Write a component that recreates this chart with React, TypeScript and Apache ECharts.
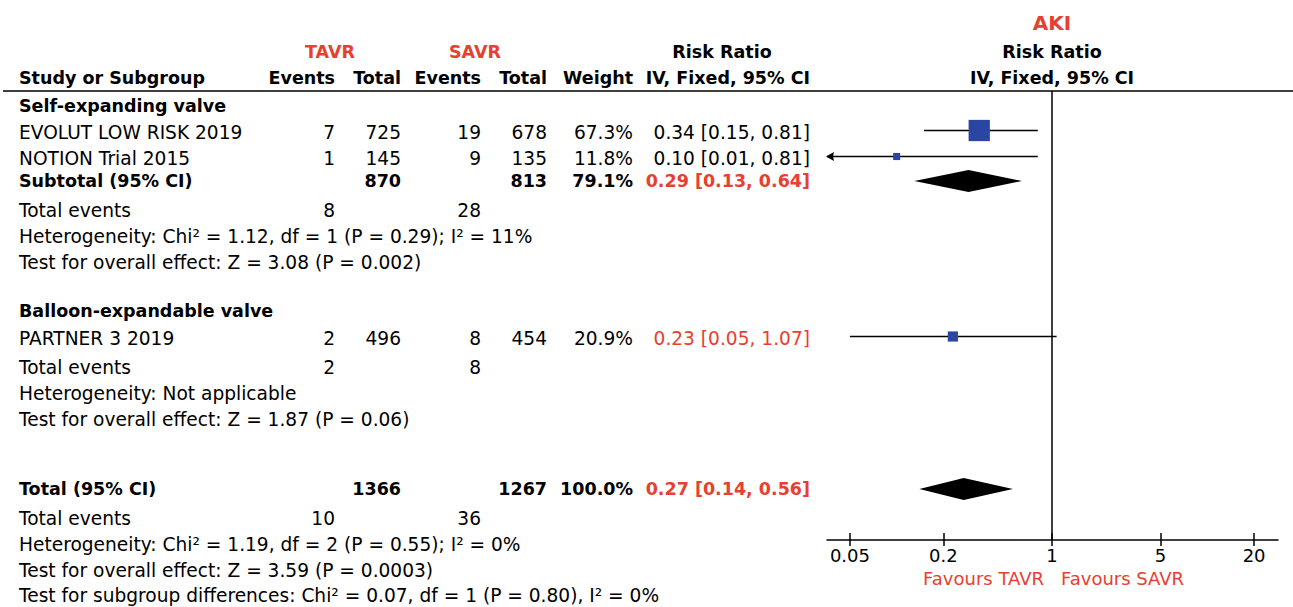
import React, { useEffect, useRef } from "react";
import * as echarts from "echarts";

// ---------- data ----------
const SUBGROUPS = ["Self-expanding valve", "Balloon-expandable valve"];
const STUDIES = ["EVOLUT LOW RISK 2019", "NOTION Trial 2015", "PARTNER 3 2019"];
const TAVR_EVENTS = [7, 1, 2];
const TAVR_TOTAL = [725, 145, 496];
const SAVR_EVENTS = [19, 9, 8];
const SAVR_TOTAL = [678, 135, 454];
const WEIGHT = [67.3, 11.8, 20.9];
const RR = [0.34, 0.1, 0.23];
const RR_LOW = [0.15, 0.01, 0.05];
const RR_HIGH = [0.81, 0.81, 1.07];

const POOLED_LABELS = ["Subtotal (95% CI)", "Total (95% CI)"];
const POOLED_TAVR_TOTAL = [870, 1366];
const POOLED_SAVR_TOTAL = [813, 1267];
const POOLED_WEIGHT = [79.1, 100.0];
const POOLED_RR = [0.29, 0.27];
const POOLED_LOW = [0.13, 0.14];
const POOLED_HIGH = [0.64, 0.56];

const EVENTS_TAVR = [8, 2, 10];
const EVENTS_SAVR = [28, 8, 36];
const HETEROGENEITY = [
  "Heterogeneity: Chi² = 1.12, df = 1 (P = 0.29); I² = 11%",
  "Heterogeneity: Not applicable",
  "Heterogeneity: Chi² = 1.19, df = 2 (P = 0.55); I² = 0%",
];
const OVERALL_EFFECT = [
  "Test for overall effect: Z = 3.08 (P = 0.002)",
  "Test for overall effect: Z = 1.87 (P = 0.06)",
  "Test for overall effect: Z = 3.59 (P = 0.0003)",
];
const SUBGROUP_TEST = "Test for subgroup differences: Chi² = 0.07, df = 1 (P = 0.80), I² = 0%";
const AXIS_TICKS = [0.05, 0.2, 1, 5, 20];
const OUTCOME = "AKI";

// ---------- layout ----------
const W = 1293;
const H = 607;
const X_MIN = 0.0356;
const X_MAX = 28.5;
const GRID = { left: 827, right: 15, top: 91, bottom: 67 };
const COL = { left: 19, tavrE: 335, tavrT: 401, savrE: 481, savrT: 547, weight: 633, ci: 810, tavrC: 330, savrC: 475, rrC: 722, plotC: 1052 };
const Y = {
  aki: 23, group: 52, head: 78, rule: 91,
  self: 106, study: [132, 158, 338], sub: 181,
  events: [210, 367, 518], het: [236, 393, 544], test: [262, 419, 570],
  balloon: 311, total: 489, subgroup: 595, favours: 578,
};
const MARK_DY = -1.5;
const RED = "#e8402f";
const BLUE = "#2b45a3";
const FONT = "DejaVu Sans";
const BODY = 18.6;
const BOLD = 17.5;

function txt(x: number, y: number, s: string, opt: { align?: string; bold?: boolean; color?: string; size?: number } = {}) {
  const align = opt.align || "left";
  return {
    type: "text",
    x,
    y,
    silent: true,
    style: {
      text: s,
      x: 0,
      y: 0,
      fill: opt.color || "#000",
      fontFamily: FONT,
      fontSize: opt.size || (opt.bold ? BOLD : BODY),
      fontWeight: opt.bold ? "bold" : "normal",
      align,
      verticalAlign: "middle",
      textAlign: align,
      textVerticalAlign: "middle",
    },
  };
}

const fmtCI = (e: number, l: number, h: number) => `${e.toFixed(2)} [${l.toFixed(2)}, ${h.toFixed(2)}]`;

function buildGraphics() {
  const g: any[] = [];
  g.push(txt(COL.plotC, Y.aki, OUTCOME, { align: "center", bold: true, color: RED, size: 20 }));
  g.push(txt(COL.tavrC, Y.group, "TAVR", { align: "center", bold: true, color: RED }));
  g.push(txt(COL.savrC, Y.group, "SAVR", { align: "center", bold: true, color: RED }));
  g.push(txt(COL.rrC, Y.group, "Risk Ratio", { align: "center", bold: true }));
  g.push(txt(COL.plotC, Y.group, "Risk Ratio", { align: "center", bold: true }));
  g.push(txt(COL.left, Y.head, "Study or Subgroup", { bold: true }));
  g.push(txt(COL.tavrE, Y.head, "Events", { align: "right", bold: true }));
  g.push(txt(COL.tavrT, Y.head, "Total", { align: "right", bold: true }));
  g.push(txt(COL.savrE, Y.head, "Events", { align: "right", bold: true }));
  g.push(txt(COL.savrT, Y.head, "Total", { align: "right", bold: true }));
  g.push(txt(COL.weight, Y.head, "Weight", { align: "right", bold: true }));
  g.push(txt(COL.ci, Y.head, "IV, Fixed, 95% CI", { align: "right", bold: true }));
  g.push(txt(COL.plotC, Y.head, "IV, Fixed, 95% CI", { align: "center", bold: true }));
  g.push({ type: "line", silent: true, shape: { x1: 3, y1: Y.rule, x2: W, y2: Y.rule }, style: { stroke: "#000", lineWidth: 1.5 } });

  g.push(txt(COL.left, Y.self, SUBGROUPS[0], { bold: true }));
  g.push(txt(COL.left, Y.balloon, SUBGROUPS[1], { bold: true }));

  STUDIES.forEach((name, i) => {
    const y = Y.study[i];
    g.push(txt(COL.left, y, name));
    g.push(txt(COL.tavrE, y, String(TAVR_EVENTS[i]), { align: "right" }));
    g.push(txt(COL.tavrT, y, String(TAVR_TOTAL[i]), { align: "right" }));
    g.push(txt(COL.savrE, y, String(SAVR_EVENTS[i]), { align: "right" }));
    g.push(txt(COL.savrT, y, String(SAVR_TOTAL[i]), { align: "right" }));
    g.push(txt(COL.weight, y, WEIGHT[i].toFixed(1) + "%", { align: "right" }));
    g.push(txt(COL.ci, y, fmtCI(RR[i], RR_LOW[i], RR_HIGH[i]), { align: "right", color: i === 2 ? RED : "#000" }));
  });

  const pooledY = [Y.sub, Y.total];
  POOLED_LABELS.forEach((name, i) => {
    const y = pooledY[i];
    g.push(txt(COL.left, y, name, { bold: true }));
    g.push(txt(COL.tavrT, y, String(POOLED_TAVR_TOTAL[i]), { align: "right", bold: true }));
    g.push(txt(COL.savrT, y, String(POOLED_SAVR_TOTAL[i]), { align: "right", bold: true }));
    g.push(txt(COL.weight, y, POOLED_WEIGHT[i].toFixed(1) + "%", { align: "right", bold: true }));
    g.push(txt(COL.ci, y, fmtCI(POOLED_RR[i], POOLED_LOW[i], POOLED_HIGH[i]), { align: "right", bold: true, color: RED }));
  });

  EVENTS_TAVR.forEach((ev, i) => {
    g.push(txt(COL.left, Y.events[i], "Total events"));
    g.push(txt(COL.tavrE, Y.events[i], String(ev), { align: "right" }));
    g.push(txt(COL.savrE, Y.events[i], String(EVENTS_SAVR[i]), { align: "right" }));
    g.push(txt(COL.left, Y.het[i], HETEROGENEITY[i]));
    g.push(txt(COL.left, Y.test[i], OVERALL_EFFECT[i]));
  });
  g.push(txt(COL.left, Y.subgroup, SUBGROUP_TEST));

  g.push(txt(COL.plotC - 8, Y.favours, "Favours TAVR", { align: "right", color: RED, size: 18 }));
  g.push(txt(COL.plotC + 9, Y.favours, "Favours SAVR", { color: RED, size: 18 }));
  return g;
}

function tickLabel(v: number) {
  const t = AXIS_TICKS.find((a) => Math.abs(Math.log10(a) - Math.log10(v)) < 0.01);
  return t != null ? String(t) : "";
}

export default function App() {
  const ref = useRef<HTMLDivElement>(null);
  useEffect(() => {
    if (!ref.current) return;
    const chart = echarts.init(ref.current, undefined, { renderer: "svg" });
    const studyData = STUDIES.map((_, i) => [RR_LOW[i], RR_HIGH[i], Y.study[i] + MARK_DY]);
    const squareData = STUDIES.map((_, i) => [RR[i], Y.study[i] + MARK_DY, WEIGHT[i]]);
    const pooledData = POOLED_RR.map((e, i) => [e, POOLED_LOW[i], POOLED_HIGH[i], [Y.sub, Y.total][i]]);
    const axisCommon = {
      type: "log",
      min: X_MIN,
      max: X_MAX,
      position: "bottom",
      splitLine: { show: false },
      minorTick: { show: false },
      minorSplitLine: { show: false },
    };
    chart.setOption({
      animation: false,
      backgroundColor: "#fff",
      grid: { ...GRID, containLabel: false },
      graphic: buildGraphics(),
      xAxis: [
        {
          ...axisCommon,
          axisLine: { show: true, lineStyle: { color: "#000", width: 1.5 } },
          axisTick: { show: true, customValues: AXIS_TICKS, length: 6, lineStyle: { color: "#000", width: 1.5 } },
          axisLabel: {
            show: true,
            customValues: AXIS_TICKS,
            formatter: (v: number) => tickLabel(v),
            color: "#000",
            fontFamily: FONT,
            fontSize: 18,
            margin: 6,
          },
        },
        {
          ...axisCommon,
          axisLine: { show: false },
          axisTick: { show: true, inside: true, customValues: AXIS_TICKS, length: 7, lineStyle: { color: "#000", width: 1.5 } },
          axisLabel: { show: false },
        },
      ],
      yAxis: { type: "value", min: GRID.top, max: H - GRID.bottom, inverse: true, show: false },
      series: [
        {
          type: "custom",
          name: "CI",
          xAxisIndex: 0,
          data: studyData,
          encode: { x: [0, 1], y: 2 },
          silent: true,
          renderItem: (params: any, api: any) => {
            const lo = api.value(0);
            const hi = api.value(1);
            const y = api.value(2);
            const p1 = api.coord([Math.max(lo, X_MIN), y]);
            const p2 = api.coord([Math.min(hi, X_MAX), y]);
            const children: any[] = [
              { type: "line", shape: { x1: p1[0], y1: p1[1], x2: p2[0], y2: p2[1] }, style: { stroke: "#000", lineWidth: 1.5 } },
            ];
            if (lo < X_MIN) {
              children.push({
                type: "polygon",
                shape: { points: [[p1[0] - 1, p1[1]], [p1[0] + 7, p1[1] - 4.5], [p1[0] + 6, p1[1]], [p1[0] + 7, p1[1] + 4.5]] },
                style: { fill: "#000" },
              });
            }
            return { type: "group", children };
          },
        },
        {
          type: "scatter",
          name: "Studies",
          xAxisIndex: 0,
          data: squareData,
          symbol: "rect",
          symbolSize: (v: number[]) => 1.5 * Math.pow(v[2], 0.63),
          itemStyle: { color: BLUE, opacity: 1 },
          silent: true,
          markLine: {
            silent: true,
            symbol: "none",
            label: { show: false },
            lineStyle: { color: "#000", width: 1.5, type: "solid" },
            data: [{ xAxis: 1 }],
          },
        },
        {
          type: "custom",
          name: "Pooled",
          xAxisIndex: 0,
          data: pooledData,
          encode: { x: [0, 1, 2], y: 3 },
          silent: true,
          renderItem: (params: any, api: any) => {
            const y = api.value(3);
            const c = api.coord([api.value(0), y]);
            const l = api.coord([api.value(1), y]);
            const h = api.coord([api.value(2), y]);
            return {
              type: "polygon",
              shape: { points: [[l[0], l[1]], [c[0], c[1] - 11], [h[0], h[1]], [c[0], c[1] + 11]] },
              style: { fill: "#000" },
            };
          },
        },
      ],
    });
    return () => chart.dispose();
  }, []);
  return <div ref={ref} style={{ position: "fixed", left: 0, top: 0, width: W, height: H }} />;
}
